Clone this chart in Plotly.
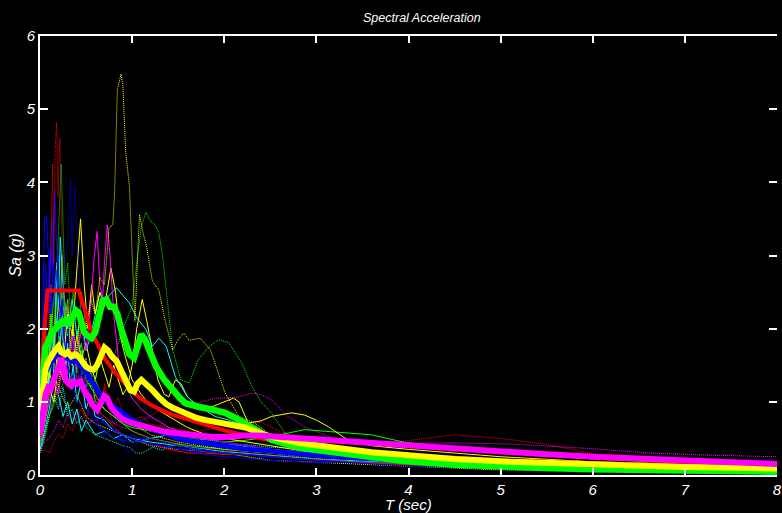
import plotly.graph_objects as go

# ---------------- data: (period T [s], Sa [g]) pairs ----------------
# thin individual records
REC_RED_SPIKES = [(0, 0.45), (0.04, 0.9), (0.08, 1.6), (0.1, 2.3), (0.12, 3.2), (0.137, 4.25), (0.15, 2.9),
                  (0.165, 4.45), (0.18, 4.82), (0.195, 3.8), (0.215, 4.6), (0.23, 3.6), (0.25, 2.7), (0.28, 2.1),
                  (0.31, 2.4), (0.35, 1.7), (0.4, 1.5), (0.45, 1.2), (0.5, 1.35), (0.55, 1.0), (0.6, 1.15),
                  (0.65, 0.9), (0.7, 1.2), (0.75, 0.85), (0.8, 0.7), (0.9, 0.65), (1.0, 0.6), (1.2, 0.5),
                  (1.4, 0.45), (1.7, 0.38), (2.0, 0.33), (2.5, 0.27), (3.0, 0.22), (3.5, 0.17), (4.0, 0.14),
                  (5.0, 0.1), (6.0, 0.08), (7.0, 0.065), (8.0, 0.055)]
REC_RED_LONG = [(0, 0.3), (0.05, 0.35), (0.1, 0.3), (0.15, 0.45), (0.2, 0.55), (0.25, 0.5), (0.3, 0.7), (0.35, 0.6),
                (0.4, 0.8), (0.45, 0.9), (0.5, 0.75), (0.55, 1.0), (0.6, 1.1), (0.65, 0.85), (0.7, 1.25),
                (0.75, 1.0), (0.8, 0.9), (0.85, 1.05), (0.9, 0.85), (1.0, 0.75), (1.1, 0.8), (1.2, 0.7),
                (1.4, 0.65), (1.6, 0.6), (1.8, 0.62), (2.0, 0.65), (2.2, 0.7), (2.4, 0.72), (2.6, 0.6),
                (2.8, 0.5), (3.0, 0.45), (3.5, 0.42), (4.0, 0.47), (4.5, 0.55), (5.0, 0.5), (5.5, 0.42),
                (6.0, 0.29), (7.0, 0.2), (8.0, 0.15)]
REC_RED_LOW = [(0, 0.5), (0.05, 1.2), (0.1, 2.0), (0.15, 1.5), (0.2, 2.4), (0.25, 1.8), (0.3, 1.5), (0.35, 1.9),
               (0.4, 1.3), (0.5, 1.1), (0.6, 0.9), (0.7, 0.8), (0.8, 0.65), (0.9, 0.55), (1.0, 0.5), (1.2, 0.42),
               (1.4, 0.35), (1.6, 0.3), (1.8, 0.3), (2.0, 0.28), (2.2, 0.28), (2.5, 0.25), (3.0, 0.2),
               (4.0, 0.14), (5.0, 0.1), (6.0, 0.08), (7.0, 0.06), (8.0, 0.05)]
REC_BLUE_1 = [(0, 0.5), (0.03, 2.5), (0.05, 3.5), (0.07, 3.55), (0.09, 3.0), (0.12, 2.2), (0.16, 3.9), (0.2, 2.5),
              (0.25, 2.0), (0.3, 1.5), (0.35, 1.3), (0.4, 1.0), (0.5, 0.9), (0.6, 0.7), (0.7, 0.6), (0.8, 0.5),
              (1.0, 0.45), (1.2, 0.5), (1.5, 0.4), (2.0, 0.3), (3.0, 0.2), (4.0, 0.12), (5.0, 0.09),
              (6.0, 0.07), (8.0, 0.05)]
REC_BLUE_2 = [(0, 0.4), (0.1, 1.2), (0.2, 1.8), (0.25, 2.6), (0.3, 3.2), (0.33, 4.05), (0.35, 3.0), (0.38, 3.95),
              (0.41, 3.0), (0.45, 2.2), (0.5, 1.3), (0.6, 0.9), (0.7, 0.7), (0.8, 0.75), (0.9, 0.5), (0.95, 0.3),
              (1.0, 0.35), (1.1, 0.5), (1.3, 0.6), (1.6, 0.5), (2.0, 0.45), (2.5, 0.35), (3.0, 0.25),
              (4.0, 0.2), (5.0, 0.13), (6.0, 0.1), (8.0, 0.07)]
REC_BLUE_3 = [(0, 0.5), (0.05, 1.5), (0.1, 2.8), (0.13, 3.5), (0.16, 2.5), (0.2, 3.0), (0.25, 2.2), (0.3, 1.6),
              (0.35, 1.8), (0.4, 1.2), (0.45, 1.4), (0.5, 0.9), (0.6, 0.8), (0.7, 0.55), (0.8, 0.65), (0.9, 0.45),
              (1.0, 0.55), (1.2, 0.42), (1.4, 0.38), (1.6, 0.33), (1.8, 0.28), (2.0, 0.25), (2.5, 0.2),
              (3.0, 0.17), (3.5, 0.18), (4.0, 0.2), (5.0, 0.14), (6.0, 0.1), (7.0, 0.08), (8.0, 0.06)]
REC_BLUE_4 = [(0, 0.6), (0.03, 1.8), (0.06, 2.9), (0.09, 2.2), (0.12, 3.1), (0.15, 2.3), (0.18, 2.8), (0.21, 1.9),
              (0.24, 2.4), (0.27, 1.7), (0.3, 2.1), (0.33, 1.5), (0.37, 1.9), (0.42, 1.3), (0.47, 1.5), (0.52, 1.0),
              (0.6, 0.9), (0.7, 0.7), (0.8, 0.6), (1.0, 0.5), (1.2, 0.42), (1.5, 0.36), (2.0, 0.3), (3.0, 0.2),
              (4.0, 0.15), (5.0, 0.11), (6.0, 0.08), (8.0, 0.06)]
REC_GREEN_SHORT = [(0, 0.4), (0.05, 0.9), (0.1, 1.6), (0.15, 2.4), (0.19, 3.0), (0.21, 3.6), (0.23, 4.25),
                   (0.25, 3.4), (0.27, 2.6), (0.3, 2.9), (0.33, 2.2), (0.36, 2.5), (0.4, 1.9), (0.45, 1.6),
                   (0.5, 1.4), (0.55, 1.2), (0.6, 1.3), (0.7, 1.0), (0.8, 0.85), (0.9, 0.75), (1.0, 0.7),
                   (1.2, 0.6), (1.4, 0.55), (1.6, 0.5), (1.8, 0.45), (2.0, 0.4), (2.5, 0.3), (3.0, 0.22),
                   (3.5, 0.18), (4.0, 0.15), (5.0, 0.11), (6.0, 0.08), (7.0, 0.06), (8.0, 0.05)]
REC_GREEN_LONG = [(0, 0.35), (0.1, 0.8), (0.2, 1.1), (0.3, 1.4), (0.4, 1.2), (0.5, 1.5), (0.6, 1.3), (0.7, 1.8),
                  (0.8, 1.6), (0.9, 2.0), (1.0, 2.3), (1.05, 2.9), (1.1, 3.4), (1.15, 3.59), (1.2, 3.47),
                  (1.25, 3.42), (1.29, 3.31), (1.33, 3.0), (1.37, 2.53), (1.44, 1.71), (1.53, 1.3), (1.62, 1.26),
                  (1.72, 1.58), (1.83, 1.75), (1.94, 1.85), (2.05, 1.81), (2.19, 1.53), (2.3, 1.21), (2.4, 1.0),
                  (2.51, 0.85), (2.69, 0.52), (2.85, 0.4), (3.0, 0.35), (3.5, 0.25), (4.0, 0.2), (5.0, 0.12),
                  (6.0, 0.08), (7.0, 0.06), (8.0, 0.04)]
REC_GREEN_THIN = [(0, 0.4), (0.05, 0.8), (0.1, 1.3), (0.15, 1.8), (0.2, 1.5), (0.25, 2.3), (0.3, 1.9), (0.35, 2.1),
                  (0.4, 1.6), (0.45, 1.8), (0.5, 1.3), (0.6, 1.1), (0.7, 0.9), (0.8, 0.8), (0.9, 0.7), (1.0, 0.65),
                  (1.2, 0.6), (1.4, 0.55), (1.6, 0.5), (1.8, 0.48), (2.0, 0.45), (2.2, 0.47), (2.5, 0.52),
                  (2.87, 0.62), (3.23, 0.59), (3.59, 0.55), (3.95, 0.45), (4.31, 0.39), (4.8, 0.33), (5.5, 0.26),
                  (6.0, 0.22), (7.0, 0.16), (8.0, 0.12)]
REC_GREEN_JAG = [(0, 0.5), (0.03, 1.1), (0.06, 1.9), (0.09, 1.3), (0.12, 2.2), (0.15, 1.6), (0.18, 2.5), (0.21, 1.8),
                 (0.24, 3.0), (0.27, 2.1), (0.3, 2.4), (0.33, 1.7), (0.36, 2.0), (0.4, 1.4), (0.45, 1.7), (0.5, 1.2),
                 (0.55, 1.4), (0.6, 1.0), (0.7, 0.9), (0.8, 0.8), (0.9, 0.7), (1.0, 0.6), (1.2, 0.5), (1.5, 0.42),
                 (2.0, 0.35), (3.0, 0.25), (4.0, 0.18), (5.0, 0.13), (6.0, 0.1), (8.0, 0.07)]
REC_YELLOW_PEAK = [(0, 0.4), (0.05, 0.7), (0.1, 1.1), (0.15, 1.4), (0.2, 1.2), (0.25, 1.8), (0.3, 1.5), (0.35, 2.0),
                   (0.4, 1.7), (0.45, 2.5), (0.5, 2.0), (0.55, 2.4), (0.6, 2.2), (0.65, 2.7), (0.7, 2.6),
                   (0.75, 3.38), (0.79, 3.42), (0.81, 3.86), (0.84, 5.27), (0.88, 5.48), (0.9, 5.32), (0.93, 4.41),
                   (0.97, 3.95), (1.0, 3.0), (1.03, 2.1), (1.06, 3.0), (1.08, 3.56), (1.12, 3.3), (1.16, 3.1),
                   (1.22, 2.65), (1.29, 2.53), (1.36, 2.1), (1.44, 1.71), (1.5, 1.85), (1.56, 1.94), (1.62, 1.84),
                   (1.68, 1.85), (1.74, 1.87), (1.85, 1.71), (1.95, 1.35), (2.01, 1.12), (2.16, 0.8), (2.33, 0.71),
                   (2.5, 0.55), (2.7, 0.45), (3.0, 0.35), (3.5, 0.25), (4.0, 0.2), (5.0, 0.12), (6.0, 0.08),
                   (7.0, 0.06), (8.0, 0.04)]
REC_YELLOW_1 = [(0, 0.5), (0.05, 1.0), (0.1, 1.4), (0.15, 1.2), (0.2, 1.8), (0.25, 1.5), (0.3, 2.2), (0.35, 1.9),
                (0.4, 2.8), (0.44, 3.5), (0.48, 2.6), (0.52, 2.0), (0.56, 2.6), (0.6, 2.2), (0.65, 2.5), (0.7, 2.3),
                (0.77, 2.83), (0.82, 2.5), (0.87, 1.9), (0.93, 1.6), (1.0, 1.3), (1.1, 1.1), (1.2, 0.95),
                (1.4, 0.8), (1.6, 0.65), (1.8, 0.55), (2.0, 0.5), (2.5, 0.4), (3.0, 0.3), (3.5, 0.25), (4.0, 0.2),
                (5.0, 0.15), (6.0, 0.11), (7.0, 0.09), (8.0, 0.07)]
REC_YELLOW_2 = [(0, 0.5), (0.05, 0.8), (0.1, 1.2), (0.15, 1.0), (0.2, 1.5), (0.25, 1.3), (0.3, 1.7), (0.35, 1.5),
                (0.4, 1.9), (0.45, 1.6), (0.5, 1.8), (0.55, 1.5), (0.6, 1.3), (0.65, 1.6), (0.7, 1.4), (0.75, 1.2),
                (0.8, 1.5), (0.85, 1.3), (0.9, 1.1), (0.95, 1.2), (1.0, 1.5), (1.05, 2.0), (1.11, 2.4),
                (1.16, 2.1), (1.22, 1.7), (1.28, 1.3), (1.35, 1.1), (1.4, 1.07), (1.47, 1.3), (1.53, 1.25),
                (1.6, 1.07), (1.7, 0.95), (1.8, 0.9), (1.9, 0.95), (2.0, 1.0), (2.1, 1.05), (2.16, 1.0),
                (2.26, 0.71), (2.4, 0.74), (2.51, 0.8), (2.73, 0.85), (2.87, 0.82), (3.0, 0.75), (3.13, 0.66),
                (3.34, 0.48), (3.6, 0.4), (4.0, 0.35), (4.5, 0.3), (5.0, 0.25), (6.0, 0.18), (7.0, 0.14),
                (8.0, 0.11)]
REC_YELLOW_JAG = [(0, 0.6), (0.03, 1.2), (0.06, 2.0), (0.09, 1.4), (0.12, 2.6), (0.15, 1.8), (0.18, 2.9), (0.21, 2.0),
                  (0.24, 2.5), (0.27, 1.7), (0.3, 2.3), (0.33, 1.6), (0.36, 2.1), (0.39, 1.5), (0.42, 2.0),
                  (0.45, 1.4), (0.5, 1.6), (0.55, 1.2), (0.6, 1.3), (0.7, 1.0), (0.8, 0.9), (0.9, 0.75), (1.0, 0.7),
                  (1.2, 0.55), (1.5, 0.45), (2.0, 0.35), (3.0, 0.25), (4.0, 0.18), (5.0, 0.14), (6.0, 0.1),
                  (8.0, 0.07)]
REC_YELLOW_LOW = [(0, 0.3), (0.1, 0.8), (0.2, 1.2), (0.3, 0.9), (0.4, 1.1), (0.5, 0.8), (0.6, 0.7), (0.8, 0.6),
                  (1.0, 0.5), (1.2, 0.4), (1.5, 0.35), (2.0, 0.3), (2.5, 0.2), (3.0, 0.17), (3.5, 0.15),
                  (4.0, 0.12), (5.0, 0.07), (6.0, 0.05), (7.0, 0.04), (8.0, 0.03)]
REC_CYAN_1 = [(0, 0.4), (0.05, 0.8), (0.1, 1.3), (0.15, 1.8), (0.2, 2.3), (0.22, 3.25), (0.25, 2.6), (0.3, 2.0),
              (0.35, 2.4), (0.4, 1.9), (0.45, 2.2), (0.5, 1.7), (0.55, 1.9), (0.6, 2.2), (0.65, 2.49), (0.7, 2.4),
              (0.75, 2.45), (0.83, 2.56), (0.9, 2.45), (0.97, 2.35), (1.05, 2.15), (1.15, 1.99), (1.22, 1.76),
              (1.29, 1.87), (1.37, 1.76), (1.47, 1.34), (1.6, 1.07), (1.72, 0.94), (1.9, 0.8), (2.05, 0.75),
              (2.2, 0.68), (2.4, 0.6), (2.6, 0.5), (2.8, 0.45), (3.0, 0.4), (3.5, 0.32), (4.0, 0.27),
              (5.0, 0.2), (6.0, 0.15), (7.0, 0.12), (8.0, 0.1)]
REC_CYAN_2 = [(0, 0.35), (0.05, 0.6), (0.1, 0.9), (0.15, 1.3), (0.2, 1.1), (0.25, 0.8), (0.3, 1.0), (0.35, 0.7),
              (0.4, 0.9), (0.45, 0.6), (0.5, 0.75), (0.6, 0.55), (0.7, 0.6), (0.8, 0.5), (0.9, 0.55), (1.0, 0.45),
              (1.2, 0.5), (1.4, 0.55), (1.6, 0.5), (1.8, 0.45), (2.0, 0.42), (2.5, 0.35), (3.0, 0.3),
              (3.5, 0.28), (4.0, 0.25), (5.0, 0.18), (6.0, 0.13), (7.0, 0.1), (8.0, 0.08)]
REC_CYAN_JAG = [(0, 0.5), (0.03, 0.9), (0.06, 1.6), (0.09, 1.1), (0.12, 2.0), (0.15, 1.4), (0.18, 2.7), (0.21, 1.6),
                (0.24, 2.2), (0.27, 1.3), (0.3, 1.8), (0.33, 1.2), (0.36, 1.5), (0.4, 1.0), (0.45, 1.3), (0.5, 0.9),
                (0.55, 1.1), (0.6, 0.8), (0.7, 0.75), (0.8, 0.6), (1.0, 0.5), (1.2, 0.45), (1.5, 0.4), (2.0, 0.32),
                (3.0, 0.22), (4.0, 0.16), (5.0, 0.12), (6.0, 0.09), (8.0, 0.06)]
REC_CYAN_DOT = [(0, 0.3), (0.05, 0.5), (0.1, 0.8), (0.15, 1.1), (0.2, 0.9), (0.25, 1.2), (0.3, 0.8), (0.35, 0.9),
                (0.4, 0.7), (0.45, 0.8), (0.5, 0.65), (0.6, 0.55), (0.7, 0.5), (0.8, 0.45), (0.9, 0.4),
                (0.97, 0.38), (1.04, 0.3), (1.11, 0.3), (1.22, 0.38), (1.33, 0.34), (1.42, 0.4), (1.51, 0.44),
                (1.6, 0.38), (1.69, 0.34), (1.8, 0.36), (2.0, 0.4), (2.2, 0.42), (2.5, 0.38), (3.0, 0.35),
                (3.5, 0.3), (4.0, 0.26), (5.0, 0.18), (6.0, 0.12), (7.0, 0.09), (8.0, 0.07)]
REC_MAGENTA_1 = [(0, 0.4), (0.05, 0.7), (0.1, 1.0), (0.15, 1.3), (0.2, 1.1), (0.25, 1.6), (0.3, 1.4), (0.35, 1.9),
                 (0.4, 1.6), (0.45, 2.0), (0.5, 1.7), (0.55, 2.3), (0.59, 3.0), (0.62, 3.33), (0.65, 2.6),
                 (0.68, 2.4), (0.7, 2.9), (0.73, 3.42), (0.76, 3.0), (0.8, 2.2), (0.85, 1.6), (0.9, 1.3),
                 (1.0, 1.05), (1.1, 0.9), (1.2, 0.8), (1.4, 0.65), (1.6, 0.55), (1.8, 0.5), (2.0, 0.45),
                 (2.5, 0.35), (3.0, 0.28), (4.0, 0.2), (5.0, 0.15), (6.0, 0.11), (7.0, 0.09), (8.0, 0.07)]
REC_MAGENTA_DOT = [(0, 0.35), (0.05, 0.45), (0.1, 0.5), (0.15, 0.6), (0.2, 0.75), (0.25, 0.65), (0.3, 0.85),
                   (0.35, 0.7), (0.4, 0.9), (0.45, 0.75), (0.5, 0.7), (0.6, 0.75), (0.7, 0.8), (0.8, 0.7),
                   (0.9, 0.75), (1.0, 0.7), (1.1, 0.75), (1.2, 0.8), (1.3, 0.9), (1.4, 0.85), (1.5, 0.95),
                   (1.6, 1.0), (1.7, 0.98), (1.8, 1.02), (1.9, 1.05), (2.0, 1.05), (2.16, 1.07), (2.3, 1.12),
                   (2.4, 1.1), (2.51, 1.03), (2.69, 0.8), (2.87, 0.66), (3.23, 0.48), (3.59, 0.44), (3.95, 0.43),
                   (4.5, 0.44), (5.17, 0.42), (6.0, 0.36), (6.6, 0.3), (7.3, 0.27), (8.0, 0.25)]

# thick (average / design) spectra
MEAN_BLUE = [(0, 0.75), (0.03, 1.1), (0.06, 1.4), (0.1, 1.5), (0.15, 1.6), (0.2, 1.68), (0.25, 1.6), (0.3, 1.6),
             (0.35, 1.55), (0.4, 1.55), (0.45, 1.48), (0.5, 1.42), (0.55, 1.3), (0.62, 1.16), (0.68, 1.05),
             (0.75, 0.98), (0.8, 0.93), (0.9, 0.83), (1.0, 0.75), (1.1, 0.68), (1.2, 0.63), (1.36, 0.57),
             (1.5, 0.5), (1.65, 0.46), (1.8, 0.43), (2.0, 0.39), (2.2, 0.36), (2.37, 0.34), (2.6, 0.31),
             (3.0, 0.27), (3.23, 0.25), (3.6, 0.22), (3.95, 0.2), (4.5, 0.17), (5.0, 0.15), (5.4, 0.14),
             (6.0, 0.11), (7.0, 0.09), (8.0, 0.07)]
DESIGN_RED = [(0, 1.2), (0.08, 2.52), (0.42, 2.52), (0.46, 2.35), (0.5, 2.2), (0.55, 2.0), (0.6, 1.85), (0.7, 1.6),
              (0.8, 1.42), (0.9, 1.27), (1.0, 1.14), (1.1, 1.04), (1.2, 0.96), (1.4, 0.84), (1.6, 0.76),
              (1.8, 0.68), (2.0, 0.61), (2.2, 0.55), (2.4, 0.5), (2.6, 0.45), (2.8, 0.42), (3.0, 0.39),
              (3.5, 0.32), (4.0, 0.27), (4.5, 0.23), (5.0, 0.2), (6.0, 0.16), (7.0, 0.135), (8.0, 0.115)]
MEAN_GREEN = [(0, 0.94), (0.03, 1.45), (0.06, 1.75), (0.1, 1.85), (0.13, 1.95), (0.17, 2.0), (0.2, 2.05),
              (0.24, 2.1), (0.27, 2.05), (0.3, 2.15), (0.33, 2.1), (0.36, 2.2), (0.39, 2.25), (0.42, 2.22),
              (0.45, 2.05), (0.48, 1.95), (0.52, 1.9), (0.56, 1.87), (0.6, 1.95), (0.64, 2.2), (0.68, 2.38),
              (0.72, 2.4), (0.76, 2.3), (0.8, 2.3), (0.84, 2.2), (0.88, 2.0), (0.92, 1.85), (0.97, 1.65),
              (1.02, 1.6), (1.06, 1.78), (1.1, 1.92), (1.14, 1.85), (1.2, 1.65), (1.26, 1.48), (1.35, 1.3),
              (1.44, 1.16), (1.52, 1.05), (1.58, 0.98), (1.65, 0.95), (1.73, 0.93), (1.85, 0.9), (2.01, 0.85),
              (2.12, 0.78), (2.23, 0.71), (2.37, 0.6), (2.51, 0.48), (2.8, 0.38), (3.0, 0.34), (3.23, 0.3),
              (3.6, 0.24), (3.95, 0.19), (4.5, 0.14), (5.0, 0.11), (5.4, 0.1), (6.0, 0.08), (7.0, 0.06),
              (8.0, 0.045)]
MEAN_YELLOW = [(0, 0.8), (0.03, 1.2), (0.06, 1.45), (0.09, 1.55), (0.12, 1.62), (0.16, 1.7), (0.2, 1.76),
               (0.23, 1.68), (0.27, 1.65), (0.3, 1.68), (0.34, 1.62), (0.38, 1.65), (0.42, 1.62), (0.46, 1.55),
               (0.5, 1.48), (0.54, 1.45), (0.58, 1.44), (0.62, 1.5), (0.66, 1.65), (0.7, 1.74), (0.74, 1.7),
               (0.78, 1.62), (0.83, 1.56), (0.88, 1.42), (0.93, 1.28), (0.98, 1.16), (1.02, 1.14), (1.06, 1.25),
               (1.1, 1.3), (1.15, 1.25), (1.22, 1.16), (1.3, 1.05), (1.37, 0.97), (1.44, 0.92), (1.52, 0.87),
               (1.6, 0.83), (1.7, 0.78), (1.8, 0.75), (1.9, 0.73), (2.0, 0.71), (2.12, 0.68), (2.23, 0.65),
               (2.37, 0.58), (2.51, 0.52), (2.8, 0.44), (3.0, 0.4), (3.23, 0.37), (3.6, 0.31), (3.95, 0.27),
               (4.5, 0.22), (5.1, 0.18), (6.0, 0.14), (7.0, 0.11), (8.0, 0.09)]
MEAN_MAGENTA = [(0, 0.55), (0.03, 0.85), (0.06, 1.1), (0.09, 1.2), (0.12, 1.18), (0.15, 1.3), (0.18, 1.38),
                (0.21, 1.5), (0.23, 1.6), (0.25, 1.45), (0.28, 1.3), (0.31, 1.25), (0.34, 1.22), (0.37, 1.28),
                (0.4, 1.25), (0.44, 1.28), (0.48, 1.15), (0.52, 1.08), (0.57, 0.96), (0.62, 0.89), (0.66, 0.98),
                (0.7, 1.08), (0.73, 1.05), (0.77, 0.93), (0.82, 0.85), (0.9, 0.76), (1.0, 0.71), (1.1, 0.68),
                (1.18, 0.66), (1.27, 0.62), (1.36, 0.59), (1.5, 0.57), (1.65, 0.55), (1.87, 0.52), (2.05, 0.52),
                (2.2, 0.54), (2.37, 0.54), (2.6, 0.52), (3.0, 0.5), (3.23, 0.48), (3.6, 0.44), (3.95, 0.41),
                (4.5, 0.36), (5.0, 0.31), (5.4, 0.29), (6.0, 0.25), (7.0, 0.19), (8.0, 0.15)]

X_TICKS = [0, 1, 2, 3, 4, 5, 6, 7, 8]
Y_TICKS = [0, 1, 2, 3, 4, 5, 6]

# ---------------- styling ----------------
DOT = "1px,1px"
thin = [
    (REC_YELLOW_LOW, "#FFFF00", DOT),
    (REC_CYAN_DOT, "#00FFFF", DOT),
    (REC_RED_LONG, "#FF0000", DOT),
    (REC_MAGENTA_DOT, "#FF00FF", DOT),
    (REC_GREEN_THIN, "#00FF00", "solid"),
    (REC_CYAN_2, "#00FFFF", "solid"),
    (REC_RED_LOW, "#FF0000", "solid"),
    (REC_BLUE_3, "#0000FF", "solid"),
    (REC_CYAN_JAG, "#00FFFF", "solid"),
    (REC_GREEN_JAG, "#00FF00", "solid"),
    (REC_YELLOW_JAG, "#FFFF00", DOT),
    (REC_BLUE_4, "#0000FF", "solid"),
    (REC_YELLOW_2, "#FFFF00", "solid"),
    (REC_GREEN_LONG, "#00FF00", DOT),
    (REC_CYAN_1, "#00FFFF", "solid"),
    (REC_YELLOW_1, "#FFFF00", "solid"),
    (REC_MAGENTA_1, "#FF00FF", "solid"),
    (REC_YELLOW_PEAK, "#FFFF00", DOT),
    (REC_GREEN_SHORT, "#00FF00", DOT),
    (REC_BLUE_2, "#0000FF", DOT),
    (REC_BLUE_1, "#0000FF", "solid"),
    (REC_RED_SPIKES, "#FF0000", DOT),
]
thick = [
    (MEAN_BLUE, "#0000FF", 5),
    (DESIGN_RED, "#FF0000", 4),
    (MEAN_GREEN, "#00FF00", 6.5),
    (MEAN_YELLOW, "#FFFF00", 6),
    (MEAN_MAGENTA, "#FF00FF", 6),
]

fig = go.Figure()
for rec, col, dash in thin:
    t, sa = zip(*rec)
    fig.add_trace(go.Scatter(x=list(t), y=list(sa), mode="lines",
                             line=dict(color=col, width=1, dash=dash), hoverinfo="skip"))
for rec, col, w in thick:
    t, sa = zip(*rec)
    fig.add_trace(go.Scatter(x=list(t), y=list(sa), mode="lines",
                             line=dict(color=col, width=w), hoverinfo="skip"))
# carrier for the right-hand tick axis
fig.add_trace(go.Scatter(x=[None], y=[None], yaxis="y2", mode="lines", hoverinfo="skip"))

FAM = "Liberation Sans, Arial, Helvetica, sans-serif"
tickfont = dict(family=FAM, size=15, color="white", style="italic")

fig.update_layout(
    width=782, height=513,
    margin=dict(l=40, r=0, t=36, b=38, pad=0),
    paper_bgcolor="black", plot_bgcolor="black",
    showlegend=False,
    xaxis=dict(range=[0, 8], tickvals=X_TICKS, ticktext=[str(v) for v in X_TICKS],
               ticks="inside", ticklen=7, tickwidth=1.5, tickcolor="white",
               showline=True, linewidth=2, linecolor="white", mirror="ticks",
               showgrid=False, zeroline=False, tickfont=tickfont, ticklabeloverflow="allow"),
    yaxis=dict(range=[0, 6], tickvals=Y_TICKS, ticktext=[str(v) for v in Y_TICKS],
               ticks="inside", ticklen=8, tickwidth=1.5, tickcolor="white",
               showline=True, linewidth=2, linecolor="white", mirror=False,
               showgrid=False, zeroline=False, tickfont=tickfont),
    yaxis2=dict(range=[0, 6], overlaying="y", side="right", anchor="x", tickvals=Y_TICKS,
                ticks="inside", ticklen=8, tickwidth=1.5, tickcolor="white",
                showline=False, showticklabels=False, showgrid=False, zeroline=False),
    annotations=[
        dict(text="Spectral Acceleration", xref="paper", yref="paper", x=(425 - 40) / 742, y=1 + 18 / 439,
             xanchor="center", yanchor="middle", showarrow=False,
             font=dict(family=FAM, size=12.5, color="white", style="italic")),
        dict(text="T (sec)", xref="paper", yref="paper", x=0.5, y=-(505 - 475) / 439,
             xanchor="center", yanchor="middle", showarrow=False,
             font=dict(family=FAM, size=15, color="white", style="italic")),
        dict(text="Sa (g)", xref="paper", yref="paper", x=(15.5 - 40) / 742, y=(475 - 255) / 439,
             xanchor="center", yanchor="middle", showarrow=False, textangle=-90,
             font=dict(family=FAM, size=16, color="white", style="italic")),
    ],
)

fig.write_html("out.html", config={"displayModeBar": False},
               post_script="document.body.style.margin='0';document.body.style.overflow='hidden';"
                           "document.body.style.background='black';")
